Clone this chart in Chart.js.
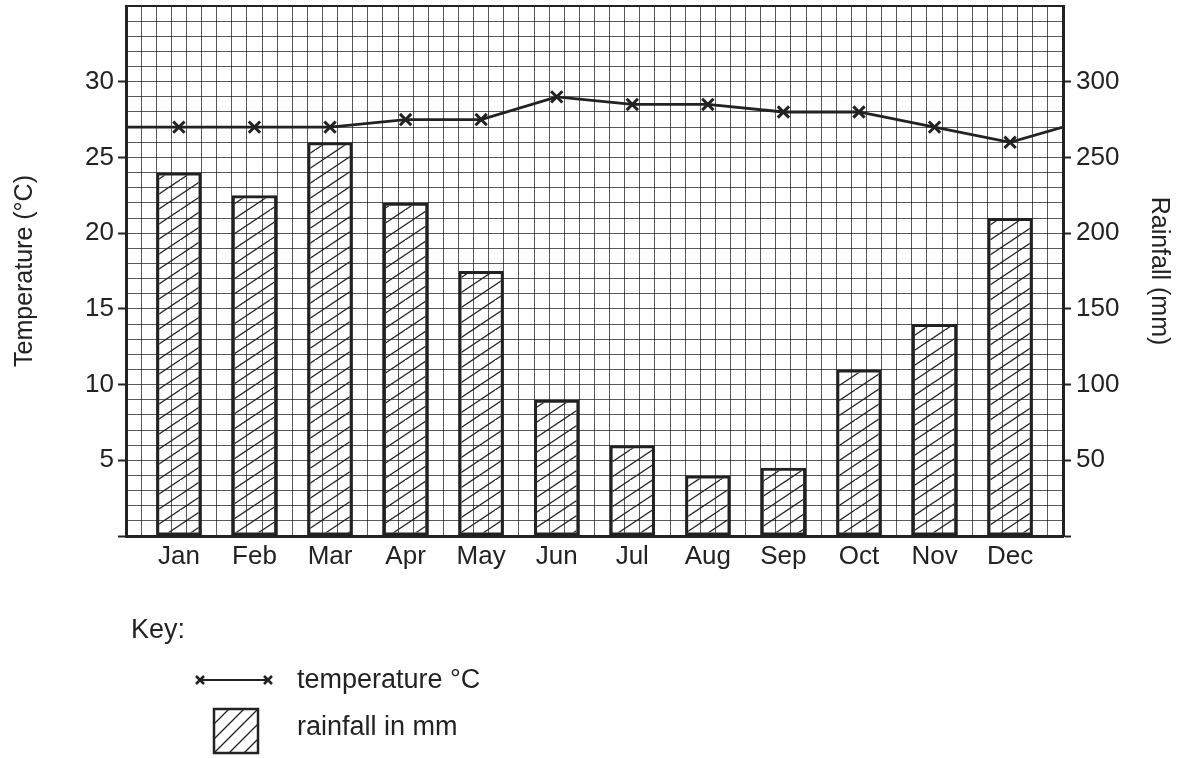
<!DOCTYPE html>
<html>
<head>
<meta charset="utf-8">
<script src="https://cdn.jsdelivr.net/npm/chart.js@4.4.1/dist/chart.umd.min.js"></script>
<style>
  body { margin: 0; background: #fff; font-family: "Liberation Sans", Arial, sans-serif; color: #222; }
  #wrap { position: relative; width: 1181px; height: 580px; }
  .key-text { position: absolute; font-size: 27px; line-height: 27px; white-space: nowrap; }
  #keySvg { position: absolute; left: 0; top: 0; }
</style>
</head>
<body>
<div id="wrap"><canvas id="climate"></canvas></div>

<svg id="keySvg" width="1181" height="758">
  <g stroke="#222" fill="none">
    <line x1="200" y1="680" x2="268" y2="680" stroke-width="2"/>
    <path d="M196 676 L204 684 M204 676 L196 684 M264 676 L272 684 M272 676 L264 684" stroke-width="2.5"/>
    <rect x="214" y="709" width="44" height="44" stroke-width="2.5"/>
    <path d="M214 724 L229 709 M214 739 L244 709 M214 753 L258 709 M229 753 L258 724 M244 753 L258 739" stroke-width="1.3"/>
  </g>
</svg>
<div class="key-text" style="left:131px; top:616px;">Key:</div>
<div class="key-text" style="left:297px; top:666px;">temperature °C</div>
<div class="key-text" style="left:297px; top:713px;">rainfall in mm</div>

<script>
const months = ['Jan', 'Feb', 'Mar', 'Apr', 'May', 'Jun', 'Jul', 'Aug', 'Sep', 'Oct', 'Nov', 'Dec'];
const temperature = [27, 27, 27, 27.5, 27.5, 29, 28.5, 28.5, 28, 28, 27, 26];
const rainfall = [240, 225, 260, 220, 175, 90, 60, 40, 45, 110, 140, 210];
// line runs on to both edges of the grid
const tempStart = 27;
const tempEnd = 27;
const tempTicks = [5, 10, 15, 20, 25, 30];
const rainTicks = [50, 100, 150, 200, 250, 300];

// month axis runs 0.7 of a month past Jan and Dec (1 small square = 0.2)
const xMin = -0.7;
const xMax = 11.7;
const tempMax = 35;
const rainMax = 350;

const ink = '#222';
const gridColor = 'rgba(0,0,0,0.65)';
const tickFont = { family: '"Liberation Sans", Arial, sans-serif', size: 26 };
const titleFont = { family: '"Liberation Sans", Arial, sans-serif', size: 25 };

function makeHatch() {
    const c = document.createElement('canvas');
    c.width = 45;
    c.height = 30;
    const g = c.getContext('2d');
    g.strokeStyle = ink;
    g.lineWidth = 1.3;
    for (let k = -1; k <= 2; k++) {
        g.beginPath();
        g.moveTo(-6, 30 + 15 * k + 4);
        g.lineTo(51, 15 * k - 4);
        g.stroke();
    }
    return g.createPattern(c, 'repeat');
}

function zeroPad(scale) {
    scale.paddingTop = 0;
    scale.paddingBottom = 0;
    scale.paddingLeft = 0;
    scale.paddingRight = 0;
}

const tempLine = [{ x: xMin, y: tempStart }]
    .concat(temperature.map((t, i) => ({ x: i, y: t })))
    .concat([{ x: xMax, y: tempEnd }]);

new Chart(document.getElementById('climate'), {
    type: 'bar',
    data: {
        datasets: [
            {
                type: 'line',
                label: 'temperature °C',
                data: tempLine,
                xAxisID: 'x',
                yAxisID: 'y',
                order: 0,
                borderColor: ink,
                borderWidth: 2.8,
                tension: 0,
                pointStyle: 'crossRot',
                pointRadius: (ctx) => (ctx.dataIndex === 0 || ctx.dataIndex === tempLine.length - 1) ? 0 : 8,
                pointBorderWidth: 3,
                pointBorderColor: ink,
                pointBackgroundColor: ink
            },
            {
                label: 'rainfall in mm',
                data: rainfall.map((r, i) => ({ x: i, y: r })),
                xAxisID: 'x',
                yAxisID: 'y1',
                order: 1,
                backgroundColor: makeHatch(),
                borderColor: ink,
                borderWidth: 3,
                borderSkipped: false,
                barPercentage: 0.6,
                categoryPercentage: 1
            }
        ]
    },
    options: {
        responsive: true,
        maintainAspectRatio: false,
        animation: false,
        devicePixelRatio: 1,
        events: [],
        layout: { padding: { top: 6, left: 0, right: 0, bottom: 0 } },
        plugins: {
            legend: { display: false },
            tooltip: { enabled: false }
        },
        scales: {
            x: {
                type: 'linear',
                position: 'bottom',
                offset: false,
                min: xMin,
                max: xMax,
                bounds: 'data',
                afterBuildTicks: (scale) => {
                    scale.ticks = months.map((m, i) => ({ value: i }));
                },
                afterFit: (scale) => { scale.height = 44; zeroPad(scale); },
                grid: { display: false, drawTicks: false, offset: false },
                border: { display: true, color: ink, width: 3 },
                ticks: {
                    autoSkip: false,
                    maxRotation: 0,
                    padding: 5,
                    color: ink,
                    font: tickFont,
                    callback: (v) => months[Math.round(v)] || ''
                }
            },
            xGrid: {
                type: 'linear',
                position: 'bottom',
                offset: false,
                min: xMin,
                max: xMax,
                afterFit: (scale) => { scale.height = 0; zeroPad(scale); },
                grid: { color: gridColor, lineWidth: 1, drawTicks: false, offset: false },
                border: { display: false },
                ticks: { display: false, stepSize: 0.2 }
            },
            y: {
                position: 'left',
                min: 0,
                max: tempMax,
                afterFit: (scale) => { scale.width = 126; zeroPad(scale); },
                grid: {
                    color: (ctx) => (ctx.tick && ctx.tick.value === tempMax) ? ink : gridColor,
                    lineWidth: (ctx) => (ctx.tick && ctx.tick.value === tempMax) ? 2 : 1,
                    tickLength: 8,
                    tickWidth: 2,
                    tickColor: (ctx) => (ctx.tick && ctx.tick.value % 5 === 0 && ctx.tick.value < tempMax) ? ink : 'rgba(0,0,0,0)'
                },
                border: { display: true, color: ink, width: 3 },
                ticks: {
                    stepSize: 1,
                    autoSkip: false,
                    padding: 4,
                    color: ink,
                    font: tickFont,
                    callback: (v) => tempTicks.includes(v) ? String(v) : ''
                },
                title: {
                    display: true,
                    text: 'Temperature (°C)',
                    color: ink,
                    font: titleFont,
                    padding: { top: 10, bottom: 0 }
                }
            },
            y1: {
                position: 'right',
                min: 0,
                max: rainMax,
                afterFit: (scale) => { scale.width = 118; zeroPad(scale); },
                grid: {
                    drawOnChartArea: false,
                    tickLength: 8,
                    tickWidth: 2,
                    tickColor: (ctx) => (ctx.tick && ctx.tick.value % 50 === 0 && ctx.tick.value < rainMax) ? ink : 'rgba(0,0,0,0)'
                },
                border: { display: true, color: ink, width: 3 },
                ticks: {
                    stepSize: 10,
                    autoSkip: false,
                    padding: 5,
                    color: ink,
                    font: tickFont,
                    callback: (v) => rainTicks.includes(v) ? String(v) : ''
                },
                title: {
                    display: true,
                    text: 'Rainfall (mm)',
                    color: ink,
                    font: titleFont,
                    padding: { top: 7, bottom: 0 }
                }
            }
        }
    }
});
</script>
</body>
</html>
